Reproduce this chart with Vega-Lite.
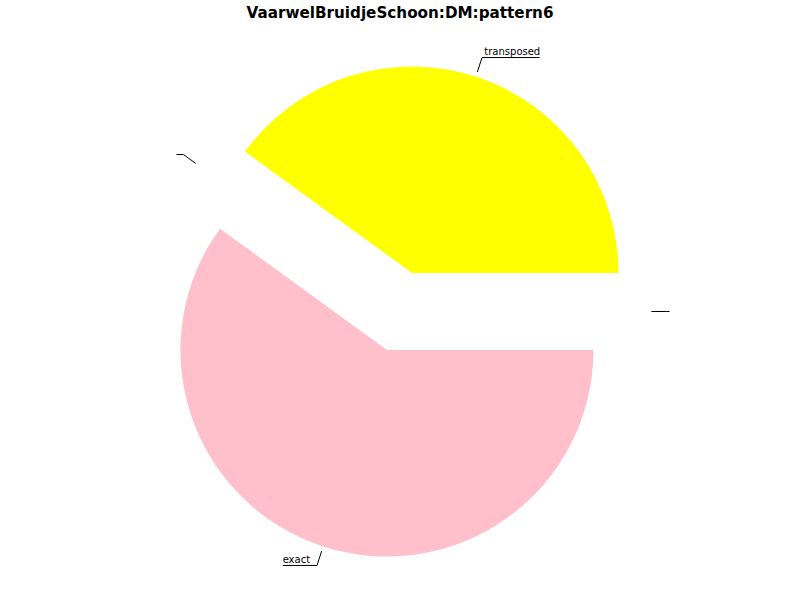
{
  "$schema": "https://vega.github.io/schema/vega-lite/v6.json",
  "width": 800,
  "height": 570,
  "autosize": {"type": "none"},
  "padding": {"left": 0, "right": 0, "top": 30, "bottom": 0},
  "background": "white",
  "title": {"text": "VaarwelBruidjeSchoon:DM:pattern6", "font": "DejaVu Sans", "fontSize": 15.2, "fontWeight": "bold", "color": "black", "anchor": "middle", "frame": "group", "offset": 9},
  "config": {"view": {"stroke": null}},
  "data": {"values": [
    {"category": "transposed", "value": 40},
    {"category": "", "value": 0},
    {"category": "exact", "value": 60},
    {"category": "", "value": 0}
  ]},
  "transform": [
    {"window": [{"op": "sum", "field": "value", "as": "v1"}], "frame": [null, 0]},
    {"joinaggregate": [{"op": "sum", "field": "value", "as": "total"}]},
    {"calculate": "(datum.v1 - datum.value) / datum.total", "as": "f0"},
    {"calculate": "datum.v1 / datum.total", "as": "f1"},
    {"calculate": "PI / 2 - 2 * PI * datum.f0", "as": "t0"},
    {"calculate": "PI / 2 - 2 * PI * datum.f1", "as": "t1"},
    {"calculate": "PI * (datum.f0 + datum.f1)", "as": "mid"},
    {"calculate": "0.1957 * cos(datum.mid)", "as": "ex"},
    {"calculate": "0.1957 * sin(datum.mid)", "as": "ey"},
    {"calculate": "1.217 * cos(datum.mid)", "as": "lx0"},
    {"calculate": "1.217 * sin(datum.mid)", "as": "ly0"},
    {"calculate": "1.29 * cos(datum.mid)", "as": "lx1"},
    {"calculate": "1.29 * sin(datum.mid)", "as": "ly1"},
    {"calculate": "cos(datum.mid) >= 0 ? 1 : -1", "as": "side"},
    {"calculate": "datum.side > 0 ? 3 : 7", "as": "gap"},
    {"calculate": "datum.lx1 + datum.side * (datum.gap + 5.45 * length(datum.category)) / 207", "as": "ux2"},
    {"calculate": "(datum.lx1 + datum.side * datum.gap / 207 + datum.ux2) / 2", "as": "tx"}
  ],
  "layer": [
    {
      "transform": [{"filter": "datum.value > 0"}],
      "mark": {"type": "arc", "radius": 206.5},
      "encoding": {
        "x": {"field": "ex", "type": "quantitative", "scale": {"domain": [-1.93, 1.9348], "nice": false, "zero": false}, "axis": null},
        "y": {"field": "ey", "type": "quantitative", "scale": {"domain": [-1.3938, 1.3599], "nice": false, "zero": false}, "axis": null},
        "theta": {"field": "t0", "type": "quantitative", "scale": null},
        "theta2": {"field": "t1"},
        "color": {"field": "category", "type": "nominal", "scale": {"domain": ["transposed", "exact"], "range": ["#ffff00", "#ffc0cb"]}, "legend": null}
      }
    },
    {
      "mark": {"type": "rule", "color": "black", "strokeWidth": 1},
      "encoding": {
        "x": {"field": "lx0", "type": "quantitative", "scale": {"domain": [-1.93, 1.9348], "nice": false, "zero": false}, "axis": null},
        "y": {"field": "ly0", "type": "quantitative", "scale": {"domain": [-1.3938, 1.3599], "nice": false, "zero": false}, "axis": null},
        "x2": {"field": "lx1"},
        "y2": {"field": "ly1"}
      }
    },
    {
      "mark": {"type": "rule", "color": "black", "strokeWidth": 1},
      "encoding": {
        "x": {"field": "lx1", "type": "quantitative", "scale": {"domain": [-1.93, 1.9348], "nice": false, "zero": false}, "axis": null},
        "y": {"field": "ly1", "type": "quantitative", "scale": {"domain": [-1.3938, 1.3599], "nice": false, "zero": false}, "axis": null},
        "x2": {"field": "ux2"}
      }
    },
    {
      "mark": {"type": "text", "font": "DejaVu Sans", "fontSize": 10, "color": "black", "align": "center", "baseline": "alphabetic", "dy": -2.5},
      "encoding": {
        "x": {"field": "tx", "type": "quantitative", "scale": {"domain": [-1.93, 1.9348], "nice": false, "zero": false}, "axis": null},
        "y": {"field": "ly1", "type": "quantitative", "scale": {"domain": [-1.3938, 1.3599], "nice": false, "zero": false}, "axis": null},
        "text": {"field": "category"}
      }
    }
  ]
}
